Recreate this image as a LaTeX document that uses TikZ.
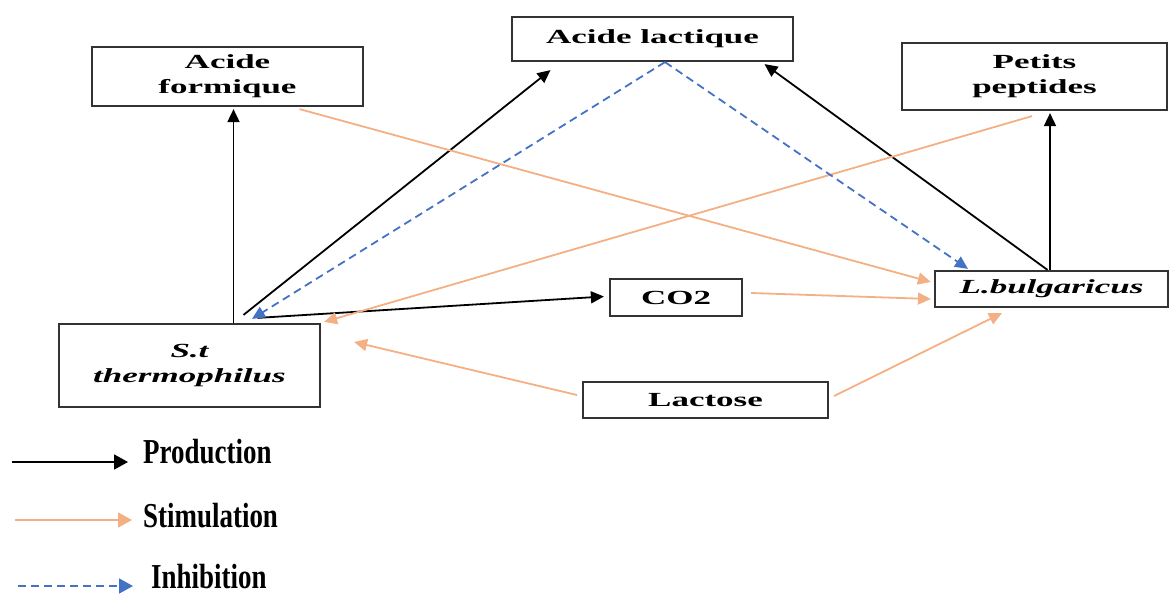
\documentclass[tikz,border=0pt]{standalone}
\usepackage{fontspec}
\usetikzlibrary{arrows.meta}
\newfontfamily\boxfont{Liberation Serif}[FakeStretch=1.75]
\newfontfamily\legendfont{Liberation Serif}[FakeStretch=0.77]
\definecolor{stimorange}{HTML}{F4B084}
\definecolor{inhibblue}{HTML}{4472C4}
\begin{document}
\begin{tikzpicture}
[x=1pt,y=-1pt,
  boxdecorate/.style={shape=rectangle,draw=black!80,line width=2.2pt,align=center,
    inner sep=0pt,font=\boxfont\bfseries\fontsize{20}{25}\selectfont},%
  prodline/.style={-{Triangle[length=13pt,width=12pt]},line width=1.8pt,black},%
  stimline/.style={-{Triangle[length=13pt,width=12pt]},line width=1.8pt,stimorange},%
  inhibline/.style={-{Triangle[length=13pt,width=12pt]},line width=1.8pt,inhibblue,
    dash pattern=on 8pt off 5pt},%
  legendtext/.style={anchor=base west,inner sep=0pt,
    font=\legendfont\bfseries\fontsize{35}{35}\selectfont}]
\useasboundingbox (0,0) rectangle (1169,594);
%% boxes
\foreach \nodename/\x/\y/\w/\h/\txt in {
  formique/227.5/76.5/271/59/{Acide\\formique},
  lactique/652.5/39/281/44/{Acide lactique},
  peptides/1034.5/76.5/265/67/{Petits\\peptides},
  stt/189.5/365.5/261/83/{\itshape S.t\\\itshape thermophilus},
  co2/676/297.5/132/37/{CO2},
  lb/1051.5/289/233/36/{\itshape L.bulgaricus},
  lactose/705.5/400/245/36/{Lactose}} {
  \node (\nodename) at (\x,\y) [boxdecorate,minimum width=\w pt,minimum height=\h pt] {\txt};
}
%% production
\path
([xshift=44pt]stt.north) edge[prodline] ([xshift=6pt,yshift=-2pt]formique.south)
([xshift=54pt,yshift=8pt]stt.north) edge[prodline] ([xshift=-102pt,yshift=-8pt]lactique.south)
([xshift=68pt,yshift=5pt]stt.north) edge[prodline] ([xshift=-5pt,yshift=1pt]co2.west)
([xshift=-4pt]lb.north) edge[prodline] ([xshift=112pt,yshift=-2pt]lactique.south)
([xshift=-1.5pt]lb.north) edge[prodline] ([xshift=15.5pt,yshift=-2pt]peptides.south);
%% stimulation
\path
([xshift=72pt,yshift=-2pt]formique.south) edge[stimline] ([xshift=-3pt,yshift=7pt]lb.west)
([xshift=-2.5pt,yshift=-5pt]peptides.south) edge[stimline] ([xshift=3pt,yshift=1pt]stt.north east)
([xshift=8pt,yshift=4.5pt]co2.east) edge[stimline] ([xshift=-3pt,yshift=-10pt]lb.west)
([xshift=-5pt,yshift=5pt]lactose.west) edge[stimline] ([xshift=33pt,yshift=23.5pt]stt.east)
([xshift=5pt,yshift=4pt]lactose.east) edge[stimline] ([xshift=-49.5pt,yshift=-5pt]lb.south);
%% inhibition
\path
([xshift=12.5pt]lactique.south) edge[inhibline] ([xshift=62.5pt,yshift=4pt]stt.north)
([xshift=12.5pt]lactique.south) edge[inhibline] ([xshift=-83.5pt,yshift=1pt]lb.north);
%% legend
\foreach \legname/\xs/\xt/\xe/\y/\yb/\linestyle/\txt in {
  prod/12/143/128/462/463/prodline/Production,
  stim/15/143/132/520/527/stimline/Stimulation,
  inhib/18/151/133/586/588/inhibline/Inhibition} {
  \coordinate (\legname start) at (\xs,\y);
  \coordinate (\legname end) at (\xe,\y);
  \node (\legname) at (\xt,\yb) [legendtext] {\txt};
  \draw[\linestyle,-{Triangle[length=14pt,width=15pt]}] (\legname start) -- (\legname end);
}
\end{tikzpicture}
\end{document}
